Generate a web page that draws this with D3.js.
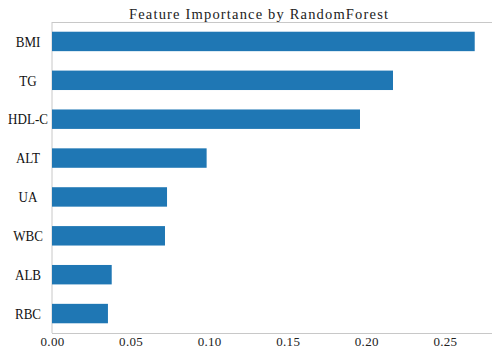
<!DOCTYPE html>
<html>
<head>
<meta charset="utf-8">
<script src="https://cdn.jsdelivr.net/npm/d3@7"></script>
<style>
  html, body { margin: 0; padding: 0; background: #fff; }
  svg { display: block; }
</style>
</head>
<body>
<svg id="chart" width="494" height="352"></svg>
<script>
// Feature importances from the random forest model, top to bottom
const features = ["BMI", "TG", "HDL-C", "ALT", "UA", "WBC", "ALB", "RBC"];
const importances = [0.269, 0.217, 0.196, 0.0984, 0.0732, 0.0719, 0.0380, 0.0356];
const xTicks = [0.00, 0.05, 0.10, 0.15, 0.20, 0.25];
const titleText = "Feature Importance by RandomForest";

const width = 494, height = 352;
const margin = { top: 22, right: 2, bottom: 19, left: 52 };
const serifFont = "\"Liberation Serif\"";
const tickFont = "\"Liberation Sans Narrow\"";

const svg = d3.select("#chart");

const x = d3.scaleLinear()
  .domain([0, 0.28])
  .range([margin.left, width - margin.right]);

const y = d3.scaleBand()
  .domain(features)
  .range([margin.top, height - margin.bottom])
  .paddingInner(0.5)
  .paddingOuter(0.25);

// Spines: left, top, bottom in light grey
const spine = "#c8c8c8";
svg.append("line")
  .attr("x1", margin.left).attr("x2", margin.left)
  .attr("y1", margin.top).attr("y2", height - margin.bottom)
  .attr("stroke", spine).attr("stroke-width", 1);
svg.append("line")
  .attr("x1", margin.left).attr("x2", width - margin.right)
  .attr("y1", margin.top + 0.5).attr("y2", margin.top + 0.5)
  .attr("stroke", spine).attr("stroke-width", 1);
svg.append("line")
  .attr("x1", margin.left).attr("x2", width - margin.right)
  .attr("y1", height - margin.bottom + 0.5).attr("y2", height - margin.bottom + 0.5)
  .attr("stroke", spine).attr("stroke-width", 1);

// Bars
svg.append("g")
  .selectAll("rect")
  .data(features)
  .join("rect")
  .attr("x", x(0))
  .attr("y", d => y(d))
  .attr("width", (d, i) => x(importances[i]) - x(0))
  .attr("height", y.bandwidth())
  .attr("fill", "#1f77b4");

// X axis labels
const xAxis = d3.axisBottom(x)
  .tickValues(xTicks)
  .tickFormat(d3.format(".2f"))
  .tickSize(0)
  .tickPadding(4);
const gx = svg.append("g")
  .attr("transform", `translate(0,${height - margin.bottom})`)
  .call(xAxis);
gx.select(".domain").remove();
gx.attr("font-family", null).attr("font-size", null);
gx.selectAll("text")
  .attr("fill", "#222")
  .style("font-family", tickFont)
  .style("font-size", "13px")
  .style("letter-spacing", "0.3px");

// Y axis labels, centred in the left gutter, set in a slightly condensed serif
const gy = svg.append("g");
gy.selectAll("text")
  .data(features)
  .join("text")
  .attr("transform", d => `translate(28,${y(d) + y.bandwidth() / 2}) scale(0.87,1)`)
  .attr("dy", "0.35em")
  .attr("text-anchor", "middle")
  .attr("fill", "#111")
  .style("font-family", serifFont)
  .style("font-size", "15px")
  .text(d => d);

// Title
svg.append("text")
  .attr("x", 129)
  .attr("y", 19)
  .attr("textLength", 259)
  .attr("lengthAdjust", "spacing")
  .attr("fill", "#222")
  .style("font-family", serifFont)
  .style("font-size", "14.5px")
  .text(titleText);
</script>
</body>
</html>
